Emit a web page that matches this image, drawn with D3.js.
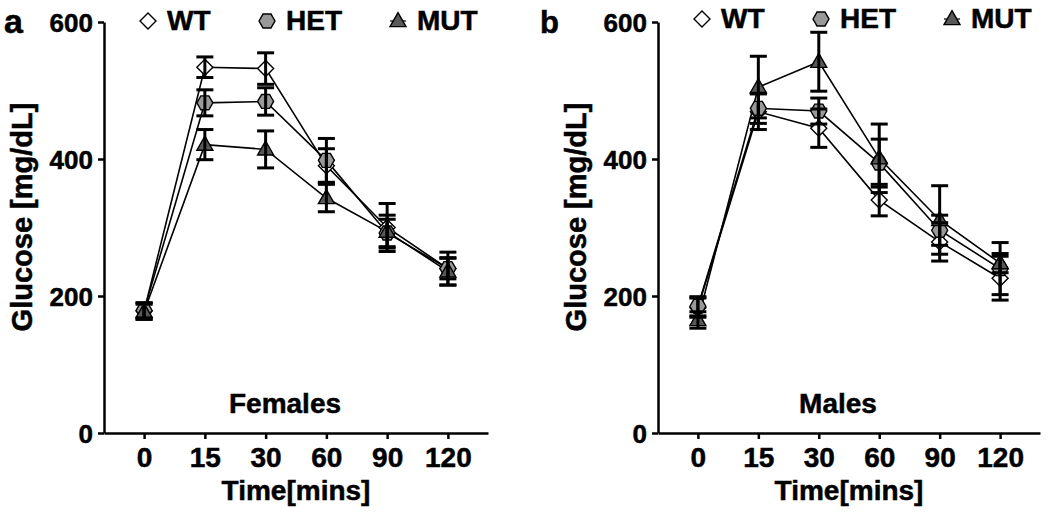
<!DOCTYPE html>
<html><head><meta charset="utf-8">
<script src="https://cdn.jsdelivr.net/npm/d3@7/dist/d3.min.js"></script>
<style>
body{margin:0;background:#fff;}
svg text{font-family:"Liberation Sans",Arial,sans-serif;font-weight:bold;fill:#000;stroke:#000;stroke-width:0.5px;}
</style></head>
<body><svg id="c" width="1050" height="514"></svg>
<script>
// ---- data ----
const timeLabels = ["0","15","30","60","90","120"];
const yTicks = [0,200,400,600];
const seriesNames = ["WT","HET","MUT"];

const femWT     = [178, 534, 532, 390, 300, 240];
const femWTErr  = [12, 15, 23, 25, 35, 24];
const femHET    = [179, 482, 484, 398, 292, 240];
const femHETErr = [11, 19, 20, 32, 20, 15];
const femMUT    = [177, 421, 414, 343, 294, 236];
const femMUTErr = [11, 22, 27, 20, 24, 20];

const maleWT     = [183, 469, 445, 340, 279, 226];
const maleWTErr  = [14, 26, 28, 23, 28, 32];
const maleHET    = [185, 474, 470, 394, 296, 240];
const maleHETErr = [14, 22, 19, 35, 22, 38];
const maleMUT    = [165, 505, 542, 401, 311, 248];
const maleMUTErr = [12, 45, 43, 50, 50, 14];

const panels = [
  {letter:"a", title:"Females", left:104, right:488, letterSize:34,
   series:[femWT,femHET,femMUT], errs:[femWTErr,femHETErr,femMUTErr], legendY:30},
  {letter:"b", title:"Males", left:658, right:1040, letterSize:31,
   series:[maleWT,maleHET,maleMUT], errs:[maleWTErr,maleHETErr,maleMUTErr], legendY:28}
];

const svg = d3.select("#c");
const plotTop = 22, plotBottom = 433;

function markerPath(kind, r){
  if(kind===0){ // diamond
    return `M0,${-r}L${r},0L0,${r}L${-r},0Z`;
  } else if(kind===1){ // hexagon, points left/right
    const h = r*0.87;
    return `M${-r},0L${-r/2},${-h}L${r/2},${-h}L${r},0L${r/2},${h}L${-r/2},${h}Z`;
  } else { // triangle
    return `M0,${-r*1.05}L${r},${r*0.7}L${-r},${r*0.7}Z`;
  }
}
const fills = ["#ffffff","#999999","#595959"];

panels.forEach(p=>{
  const x = d3.scalePoint().domain(timeLabels).range([p.left,p.right]).padding(0.66);
  const y = d3.scaleLinear().domain([0,600]).range([plotBottom,plotTop]);
  const g = svg.append("g");

  // axes
  const ya = g.append("g").attr("transform",`translate(${p.left},0)`)
    .call(d3.axisLeft(y).tickValues(yTicks).tickSize(6).tickPadding(5).tickSizeOuter(0));
  ya.select(".domain").attr("stroke","#000").attr("stroke-width",2.5);
  ya.selectAll(".tick line").attr("stroke","#000").attr("stroke-width",2.5);
  ya.selectAll(".tick text").style("font-size","26px").attr("dy","0.36em");

  const xa = g.append("g").attr("transform",`translate(0,${plotBottom})`)
    .call(d3.axisBottom(x).tickSize(6).tickPadding(8).tickSizeOuter(0));
  xa.select(".domain").attr("stroke","#000").attr("stroke-width",2.5);
  xa.selectAll(".tick line").attr("stroke","#000").attr("stroke-width",2.5);
  xa.selectAll(".tick text").style("font-size","28px").attr("dy","0.71em");

  const cx = (p.left+p.right)/2;
  g.append("text").attr("x",cx).attr("y",500).attr("text-anchor","middle")
    .style("font-size","28px").text("Time[mins]");
  g.append("text").attr("transform",`translate(${p.left-72},217) rotate(-90)`)
    .attr("text-anchor","middle").style("font-size","29px").text("Glucose [mg/dL]");
  g.append("text").attr("x",cx-11).attr("y",413).attr("text-anchor","middle")
    .style("font-size","28px").text(p.title);
  g.append("text").attr("x",p.left-(p.letter==="a"?100:118)).attr("y",33)
    .style("font-size",p.letterSize+"px").text(p.letter);

  // lines
  const line = d3.line().x((d,i)=>x(timeLabels[i])).y(d=>y(d));
  p.series.forEach(s=>{
    g.append("path").attr("d",line(s)).attr("fill","none").attr("stroke","#000").attr("stroke-width",1.6);
  });
  // markers
  p.series.forEach((s,k)=>{
    g.selectAll(null).data(s).enter().append("path")
      .attr("transform",(d,i)=>`translate(${x(timeLabels[i])},${y(d)})`)
      .attr("d",markerPath(k,8)).attr("fill",fills[k]).attr("stroke","#000").attr("stroke-width",1.4);
  });
  // error bars
  p.series.forEach((s,k)=>{
    const e = p.errs[k];
    s.forEach((v,i)=>{
      const xx = x(timeLabels[i]);
      g.append("line").attr("x1",xx).attr("x2",xx).attr("y1",y(v-e[i])).attr("y2",y(v+e[i]))
        .attr("stroke","#000").attr("stroke-width",3);
      [v-e[i], v+e[i]].forEach(t=>{
        g.append("line").attr("x1",xx-8.5).attr("x2",xx+8.5).attr("y1",y(t)).attr("y2",y(t))
          .attr("stroke","#000").attr("stroke-width",3);
      });
    });
  });

  // legend
  const legX = [44, 163, 294];
  seriesNames.forEach((n,k)=>{
    const lx = p.left+legX[k], ly = p.legendY-9;
    g.append("line").attr("x1",lx-8).attr("x2",lx+8).attr("y1",ly).attr("y2",ly)
      .attr("stroke","#000").attr("stroke-width",1.2);
    g.append("path").attr("transform",`translate(${lx},${ly})`).attr("d",markerPath(k,8))
      .attr("fill",fills[k]).attr("stroke","#000").attr("stroke-width",1.4);
    g.append("text").attr("x",lx+19).attr("y",p.legendY).style("font-size","28px").text(n);
  });
});
</script></body></html>
